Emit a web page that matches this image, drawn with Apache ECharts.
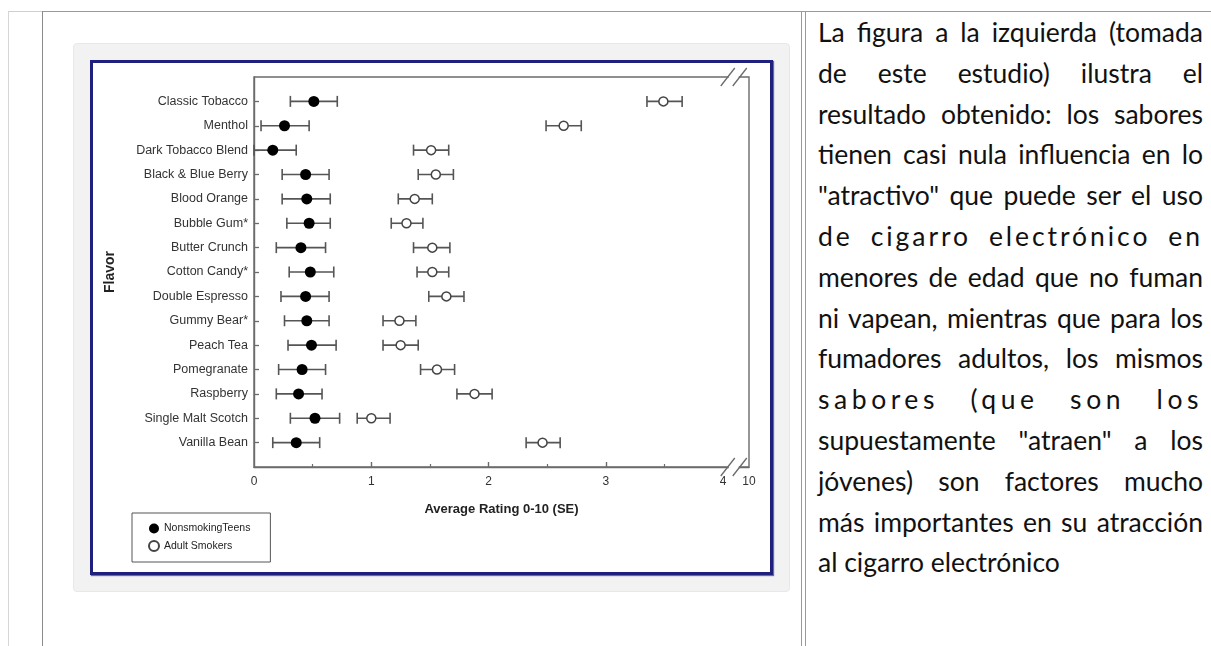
<!DOCTYPE html>
<html><head><meta charset="utf-8">
<script src="https://cdn.jsdelivr.net/npm/echarts@6/dist/echarts.min.js"></script>
<style>
html,body{margin:0;padding:0;background:#fff;}
body{width:1211px;height:646px;position:relative;overflow:hidden;}
.a{position:absolute;}
#txt{position:absolute;left:818px;top:12px;width:385px;font-family:Lato,'Open Sans',sans-serif;font-size:26.5px;line-height:40.8px;color:#111;}
#txt div{white-space:nowrap;text-align:justify;text-align-last:justify;}
#txt div.last{text-align-last:left;}
</style></head><body>
<div class="a" style="left:8px;top:11px;width:34px;height:1px;background:#cfcfcf"></div>
<div class="a" style="left:42px;top:11px;width:1169px;height:1px;background:#9a9a9a"></div>
<div class="a" style="left:8px;top:11px;width:1px;height:635px;background:#d6d6d6"></div>
<div class="a" style="left:42px;top:11px;width:1px;height:635px;background:#8a8a8a"></div>
<div class="a" style="left:801px;top:11px;width:1px;height:635px;background:#9a9a9a"></div>
<div class="a" style="left:805px;top:11px;width:1px;height:635px;background:#9a9a9a"></div>
<div class="a" style="left:73px;top:43px;width:715px;height:547px;background:#f2f2f2;border:1px solid #e8e8e8;border-radius:4px"></div>
<div class="a" style="left:90px;top:60px;width:677px;height:509px;border:3px solid #1f1f7e;background:#fff;box-shadow:1px 1px 1px #6a6aa0"></div>
<div id="chart" class="a" style="left:93px;top:63px;width:677px;height:509px"></div>
<div id="txt">
<div>La figura a la izquierda (tomada</div>
<div>de este estudio) ilustra el</div>
<div>resultado obtenido: los sabores</div>
<div>tienen casi nula influencia en lo</div>
<div>"atractivo" que puede ser el uso</div>
<div class="ls" data-f="0.75">de cigarro electrónico en</div>
<div>menores de edad que no fuman</div>
<div>ni vapean, mientras que para los</div>
<div>fumadores adultos, los mismos</div>
<div class="ls" data-f="0.6">sabores (que son los</div>
<div>supuestamente "atraen" a los</div>
<div>jóvenes) son factores mucho</div>
<div>más importantes en su atracción</div>
<div class="last">al cigarro electrónico</div>
</div>
<script>
// ---- data ----
const categories = ['Classic Tobacco','Menthol','Dark Tobacco Blend','Black & Blue Berry','Blood Orange','Bubble Gum*','Butter Crunch','Cotton Candy*','Double Espresso','Gummy Bear*','Peach Tea','Pomegranate','Raspberry','Single Malt Scotch','Vanilla Bean'];
const teensMean = [0.51,0.26,0.16,0.44,0.45,0.47,0.40,0.48,0.44,0.45,0.49,0.41,0.38,0.52,0.36];
const teensLo   = [0.31,0.06,0.00,0.24,0.24,0.28,0.19,0.30,0.23,0.26,0.29,0.21,0.19,0.31,0.16];
const teensHi   = [0.71,0.47,0.36,0.64,0.65,0.65,0.61,0.68,0.64,0.64,0.70,0.61,0.58,0.73,0.56];
const adultsMean = [3.49,2.64,1.51,1.55,1.37,1.30,1.52,1.52,1.64,1.24,1.25,1.56,1.88,1.00,2.46];
const adultsLo   = [3.35,2.49,1.36,1.40,1.23,1.17,1.36,1.39,1.49,1.10,1.10,1.42,1.73,0.88,2.32];
const adultsHi   = [3.65,2.79,1.66,1.70,1.52,1.44,1.67,1.66,1.79,1.38,1.40,1.71,2.03,1.16,2.61];
const xTickValues = [0,1,2,3,4,4.22];
const xTickLabels = ['0','1','2','3','4','10'];
const xMinorTicks = [0.5,1.5,2.5,3.5];
const seriesNames = ['NonsmokingTeens','Adult Smokers'];

// ---- text justification helpers ----
(function(){
  const W = 385;
  const probe = document.createElement('span');
  probe.style.cssText = 'position:absolute;visibility:hidden;white-space:nowrap;font-family:Lato,"Open Sans",sans-serif;font-size:26.5px;';
  document.body.appendChild(probe);
  document.querySelectorAll('#txt .ls').forEach(d => {
    probe.textContent = d.textContent;
    const w = probe.getBoundingClientRect().width;
    const n = d.textContent.length;
    const f = parseFloat(d.dataset.f);
    d.style.letterSpacing = ((W - w) * f / n) + 'px';
  });
  probe.remove();
})();

const AX = '#6b6b6b';
const FONT = '"Liberation Sans", Arial, sans-serif';
function errRender(color){
  return function(params, api){
    const a = api.coord([api.value(0), api.value(2)]);
    const b = api.coord([api.value(1), api.value(2)]);
    const h = 5.5;
    const st = {stroke: color, lineWidth: 1.6};
    return {type:'group', children:[
      {type:'line', shape:{x1:a[0],y1:a[1],x2:b[0],y2:b[1]}, style:st},
      {type:'line', shape:{x1:a[0],y1:a[1]-h,x2:a[0],y2:a[1]+h}, style:st},
      {type:'line', shape:{x1:b[0],y1:b[1]-h,x2:b[0],y2:b[1]+h}, style:st}
    ]};
  };
}

const chart = echarts.init(document.getElementById('chart'), null, {renderer:'canvas'});
const option = {
  animation: false,
  grid: {left:161, top:14, right:21, bottom:105, show:true, borderColor:AX, borderWidth:1.4, backgroundColor:'transparent'},
  legend: {
    data: seriesNames, orient:'vertical', left:39, top:450,
    itemWidth:10, itemHeight:10, itemGap:6, padding:[10,20,10,16],
    borderColor:'#555', borderWidth:1, selectedMode:false,
    textStyle:{fontSize:10.5, color:'#222', fontFamily:FONT}
  },
  xAxis: [{
    type:'value', min:0, max:4.22, interval:1, position:'bottom',
    name:'Average Rating 0-10 (SE)', nameLocation:'middle', nameGap:36,
    nameTextStyle:{fontWeight:'bold', fontSize:13, color:'#222', fontFamily:FONT},
    axisLine:{show:true, onZero:false, lineStyle:{color:AX, width:1.4}},
    axisTick:{show:true, inside:true, length:5, customValues:[1,2,3], lineStyle:{color:AX, width:1.4}},
    axisLabel:{show:true, customValues:xTickValues, margin:9, fontSize:12, color:'#333', fontFamily:FONT,
      formatter: v => { const i = xTickValues.findIndex(t => Math.abs(t - v) < 1e-6); return i >= 0 ? xTickLabels[i] : ''; }},
    splitLine:{show:false}
  },{
    type:'value', min:0, max:4.22, position:'bottom',
    axisLine:{show:false, onZero:false}, axisLabel:{show:false}, splitLine:{show:false},
    axisTick:{show:true, inside:true, length:3, customValues:xMinorTicks, lineStyle:{color:AX, width:1.2}}
  }],
  yAxis: {
    type:'value', min:-1, max:15, inverse:true,
    name:'Flavor', nameLocation:'middle', nameGap:137, nameRotate:90,
    nameTextStyle:{fontWeight:'bold', fontSize:14, color:'#222', fontFamily:FONT},
    axisLine:{show:true, onZero:false, lineStyle:{color:AX, width:1.4}},
    axisTick:{show:true, inside:true, length:5, customValues:categories.map((c,i)=>i), lineStyle:{color:AX, width:1.3}},
    axisLabel:{show:true, customValues:categories.map((c,i)=>i), margin:6, fontSize:12.5, color:'#333', fontFamily:FONT,
      formatter: v => categories[Math.round(v)] || ''},
    splitLine:{show:false}
  },
  series: [
    {type:'custom', name:'teensErr', renderItem: errRender('#555'), encode:{x:[0,1], y:2},
     data: categories.map((c,i)=>[teensLo[i], teensHi[i], i]), z:2, silent:true},
    {type:'custom', name:'adultsErr', renderItem: errRender('#555'), encode:{x:[0,1], y:2},
     data: categories.map((c,i)=>[adultsLo[i], adultsHi[i], i]), z:2, silent:true},
    {type:'scatter', name:seriesNames[0], symbol:'circle', symbolSize:11,
     itemStyle:{color:'#000', opacity:1}, data: teensMean.map((v,i)=>[v,i]), z:5},
    {type:'scatter', name:seriesNames[1], symbol:'circle', symbolSize:9,
     itemStyle:{color:'#fff', borderColor:'#444', borderWidth:1.5, opacity:1}, data: adultsMean.map((v,i)=>[v,i]), z:5}
  ]
};
chart.setOption(option);

// axis-break marks
(function(){
  const bx = chart.convertToPixel({xAxisIndex:0}, 4.09);
  const yTop = chart.convertToPixel({yAxisIndex:0}, -1);
  const yBot = chart.convertToPixel({yAxisIndex:0}, 15);
  const els = [];
  [yTop, yBot].forEach(y => {
    els.push({type:'rect', shape:{x:bx-5, y:y-2, width:10, height:4}, style:{fill:'#fff'}, z:100});
    [-6, 6].forEach(dx => {
      els.push({type:'line', shape:{x1:bx+dx-7, y1:y+9, x2:bx+dx+7, y2:y-9}, style:{stroke:AX, lineWidth:1.3}, z:101});
    });
  });
  chart.setOption({graphic: els});
})();
</script>
</body></html>
